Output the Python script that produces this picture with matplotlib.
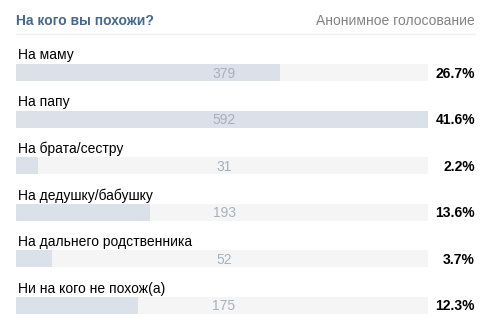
import matplotlib.pyplot as plt

plt.rcParams['font.family'] = ['Liberation Sans', 'DejaVu Sans']

# poll data
title = 'На кого вы похожи?'
subtitle = 'Анонимное голосование'
options = ['На маму', 'На папу', 'На брата/сестру', 'На дедушку/бабушку',
           'На дальнего родственника', 'Ни на кого не похож(а)']
votes = [379, 592, 31, 193, 52, 175]
percents = [26.7, 41.6, 2.2, 13.6, 3.7, 12.3]

W, H = 496, 331
fig = plt.figure(figsize=(W / 100, H / 100), dpi=100)
ax = fig.add_axes([0, 0, 1, 1])
ax.set_xlim(0, W)
ax.set_ylim(H, 0)
ax.axis('off')

left, track_w = 16, 412
row0, step, bar_h = 72.5, 46.6, 17
vmax = max(votes)

ax.text(16, 21, title, color='#45688e', fontsize=10, fontweight='bold', va='center')
ax.text(475, 21, subtitle, color='#828282', fontsize=10, va='center', ha='right')
ax.plot([16, 475], [34, 34], color='#f0f0f0', lw=1)

ys = [row0 + i * step for i in range(len(options))]
ax.barh(ys, [track_w] * len(options), left=left, height=bar_h, color='#f5f5f5')
ax.barh(ys, [v / vmax * track_w for v in votes], left=left, height=bar_h, color='#dae1e8')

for y, name, v, p in zip(ys, options, votes, percents):
    ax.text(18, y - 17, name, fontsize=10, color='#000000', va='center')
    ax.text(left + track_w / 2 + 2, y + 1, str(v), fontsize=10, color='#a5b1be',
            va='center', ha='center')
    ax.text(475, y + 1, f'{p}%', fontsize=10, fontweight='bold', color='#000000',
            va='center', ha='right')

fig.savefig('out.png', dpi=100)
